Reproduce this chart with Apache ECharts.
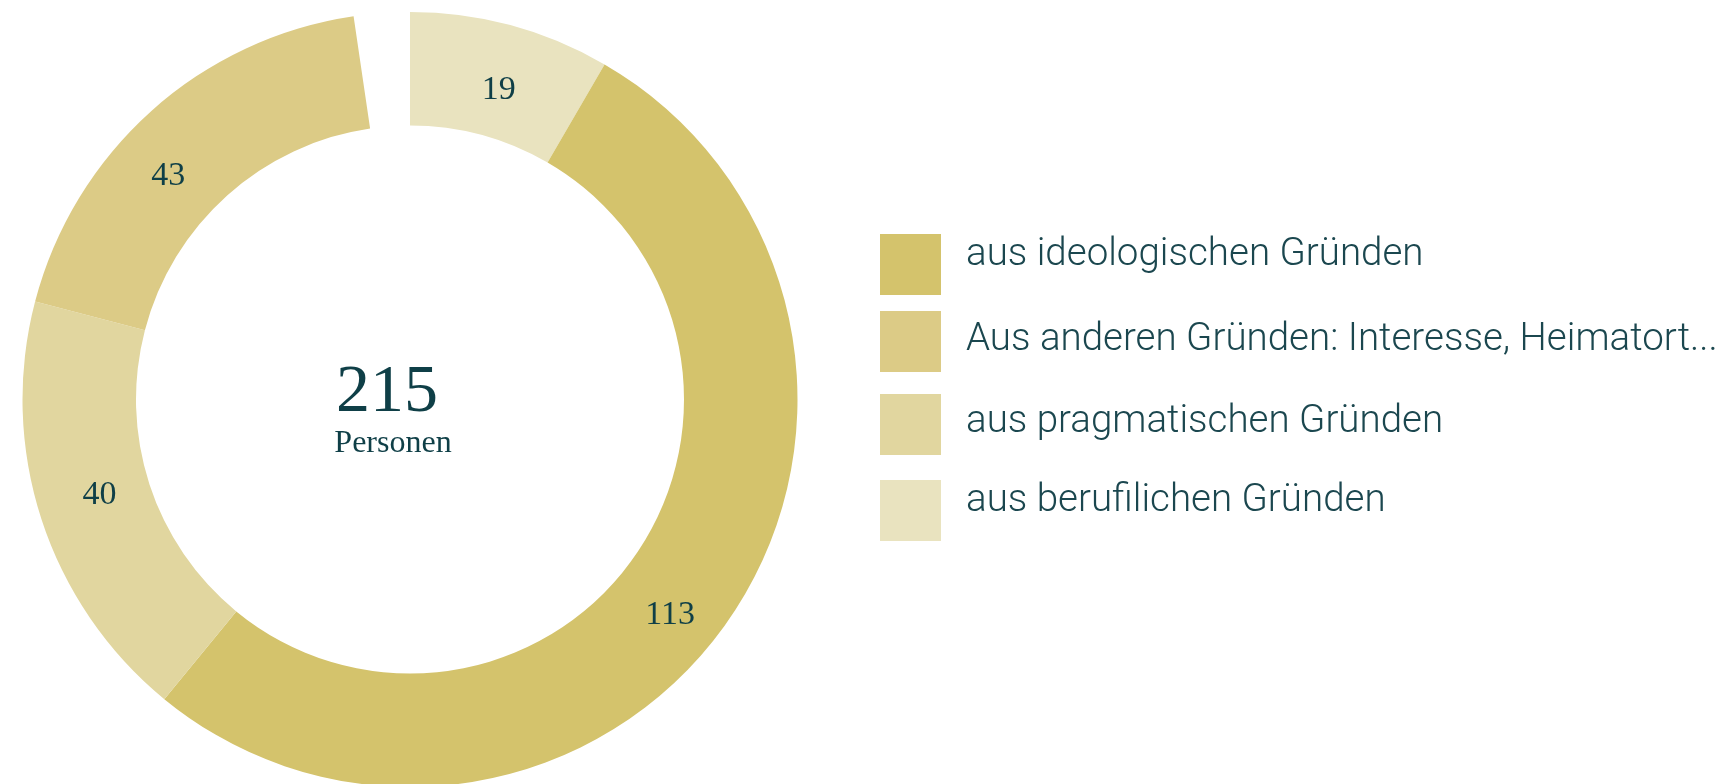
<!DOCTYPE html>
<html>
<head>
<meta charset="utf-8">
<script src="https://cdn.jsdelivr.net/npm/echarts@6/dist/echarts.min.js"></script>
<style>
  html, body { margin: 0; padding: 0; background: #ffffff; }
  #chart { width: 1736px; height: 784px; }
</style>
</head>
<body>
<div id="chart"></div>
<script>
// ---- data ----
const categories = [
  'aus berufilichen Gründen',
  'aus ideologischen Gründen',
  'aus pragmatischen Gründen',
  'Aus anderen Gründen: Interesse, Heimatort...'
];
// slice sizes as drawn in the picture
const sliceValues = [18, 113, 39, 40];
// numbers printed on the slices
const labelValues = [19, 113, 40, 43];
// empty gap at the top of the ring
const gapValue = 5;
const totalText = '215';
const totalUnit = 'Personen';
const legendOrder = [
  'aus ideologischen Gründen',
  'Aus anderen Gründen: Interesse, Heimatort...',
  'aus pragmatischen Gründen',
  'aus berufilichen Gründen'
];

// ---- styles ----
const colors = {
  'aus berufilichen Gründen': '#e9e3bf',
  'aus ideologischen Gründen': '#d4c36c',
  'aus pragmatischen Gründen': '#e1d69f',
  'Aus anderen Gründen: Interesse, Heimatort...': '#dccb86'
};
const legendTops = [234, 311, 394, 480];
// (line height of a trailing empty line -> lifts the text by half of it)
const legendLift = [18, 2, 4, 18];
const labelNudge = [[2, 13], [-14, 25], [7, -8], [-19, 25]];
const textColor = '#1b474f';

const pieData = categories.map((name, i) => ({
  name: name,
  value: sliceValues[i],
  itemStyle: { color: colors[name] }
}));
pieData.push({
  name: '__gap',
  value: gapValue,
  itemStyle: { color: 'rgba(0,0,0,0)' },
  label: { show: false },
  emphasis: { disabled: true }
});

const legends = legendOrder.map((name, i) => ({
  data: [name],
  left: 880,
  top: legendTops[i],
  orient: 'vertical',
  padding: 0,
  itemWidth: 61,
  itemHeight: 61,
  icon: 'rect',
  selectedMode: false,
  formatter: n => n + '\n',
  textStyle: {
    fontFamily: 'Roboto',
    fontWeight: 300,
    fontSize: 38.5,
    lineHeight: legendLift[i],
    color: textColor,
    padding: [0, 0, 0, 20]
  }
}));

const chart = echarts.init(document.getElementById('chart'), null, { renderer: 'canvas' });
chart.setOption({
  animation: false,
  backgroundColor: '#ffffff',
  legend: legends,
  series: [{
    type: 'pie',
    center: [410, 399.5],
    radius: [274, 387.5],
    startAngle: 90,
    clockwise: true,
    avoidLabelOverlap: false,
    silent: true,
    label: {
      show: true,
      position: 'inside',
      fontFamily: 'Liberation Serif',
      fontSize: 34,
      color: '#0f3f47',
      formatter: p => p.dataIndex < labelValues.length ? String(labelValues[p.dataIndex]) : ''
    },
    labelLine: { show: false },
    labelLayout: function (p) {
      const n = labelNudge[p.dataIndex];
      return n ? { dx: n[0], dy: n[1] } : {};
    },
    data: pieData
  }],
  graphic: [
    {
      type: 'text',
      x: 387, y: 393,
      style: {
        text: totalText,
        font: '68px "Liberation Serif"',
        fill: '#0f3f47',
        align: 'center',
        verticalAlign: 'middle'
      }
    },
    {
      type: 'text',
      x: 393, y: 444,
      style: {
        text: totalUnit,
        font: '32px "Liberation Serif"',
        fill: '#0f3f47',
        align: 'center',
        verticalAlign: 'middle'
      }
    }
  ]
});
</script>
</body>
</html>
